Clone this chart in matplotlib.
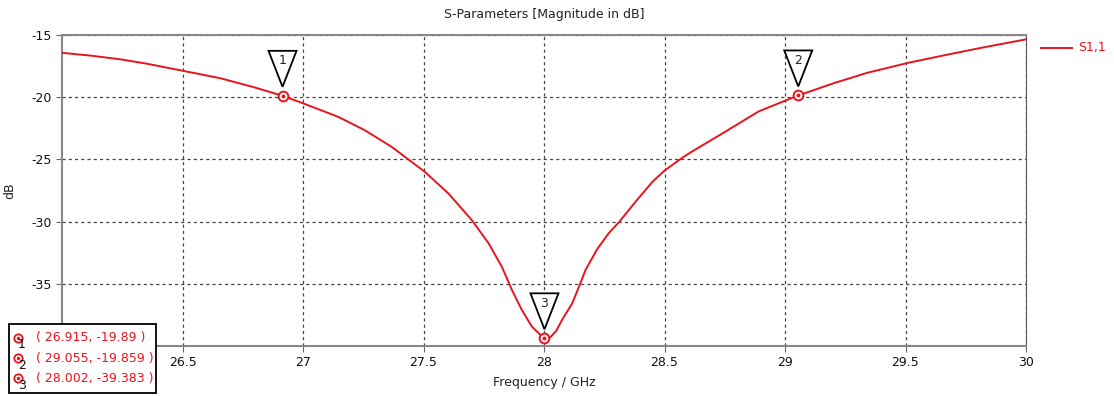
import matplotlib.pyplot as plt
from matplotlib.patches import Polygon, Rectangle
from matplotlib.lines import Line2D

# S1,1 magnitude in dB vs frequency in GHz
freq = [26.00, 26.12, 26.24, 26.35, 26.45, 26.50, 26.658, 26.797, 26.915, 27.00,
        27.145, 27.255, 27.367, 27.505, 27.603, 27.70, 27.77, 27.825, 27.867, 27.908,
        27.95, 27.985, 28.002, 28.026, 28.05, 28.075, 28.117, 28.151, 28.172, 28.221,
        28.27, 28.311, 28.38, 28.45, 28.50, 28.575, 28.62, 28.75, 28.89, 28.99,
        29.055, 29.20, 29.339, 29.515, 29.686, 29.825, 30.00]
s11 = [-16.43, -16.66, -16.95, -17.30, -17.68, -17.87, -18.48, -19.20, -19.89, -20.49,
       -21.57, -22.64, -23.98, -25.99, -27.73, -29.87, -31.74, -33.63, -35.5, -37.1,
       -38.45, -39.1, -39.383, -39.3, -38.8, -37.9, -36.57, -34.96, -33.9, -32.2,
       -30.9, -30.05, -28.4, -26.8, -25.9, -24.85, -24.3, -22.8, -21.15, -20.36,
       -19.859, -18.89, -18.05, -17.22, -16.53, -15.99, -15.35]

# marker readouts
marker_ids = ['1', '2', '3']
marker_freq = [26.915, 29.055, 28.002]
marker_val = [-19.89, -19.859, -39.383]

xticks = [26.5, 27, 27.5, 28, 28.5, 29, 29.5, 30]
yticks = [-35, -30, -25, -20, -15]

RED = '#e8141c'
plt.rcParams['font.family'] = 'DejaVu Sans'
plt.rcParams['axes.unicode_minus'] = False

W, H = 1114, 396
fig = plt.figure(figsize=(W / 100, H / 100), dpi=100)
ax = fig.add_axes([62 / W, 1 - 346 / H, (1026 - 62) / W, (346 - 35) / H])

ax.plot(freq, s11, color=RED, lw=1.4, zorder=3)
ax.set_xlim(26, 30)
ax.set_ylim(-40, -15)
ax.set_xticks(xticks)
ax.set_xticklabels(['26.5', '27', '27.5', '28', '28.5', '29', '29.5', '30'])
ax.set_yticks(yticks)
ax.tick_params(labelsize=9, length=4, color='#666666', labelcolor='#111111')
ax.grid(True, color='#444444', lw=0.9, linestyle=(0, (2.5, 2.5)))
for s in ['top', 'left', 'bottom']:
    ax.spines[s].set_color('#888888')
    ax.spines[s].set_linewidth(1.5)
ax.spines['right'].set_color('#555555')

ax.set_title('S-Parameters [Magnitude in dB]', fontsize=9, color='#222222', pad=12)
ax.set_xlabel('Frequency / GHz', fontsize=9, color='#222222', labelpad=5)
ax.set_ylabel('dB', fontsize=9, color='#222222')
ax.yaxis.set_label_coords(-(62 - 16) / 964, 0.5)

# triangle flags above each marker (pixel offsets)
fig.canvas.draw()
for mid, mx, my in zip(marker_ids, marker_freq, marker_val):
    px, py = ax.transData.transform((mx, my))
    tri = Polygon([(px - 14, py + 45), (px + 14, py + 45), (px, py + 9)],
                  closed=True, transform=None, facecolor='white',
                  edgecolor='black', lw=1.3, zorder=5)
    fig.artists.append(tri)
    fig.text(px / W, (py + 35) / H, mid, ha='center', va='center',
             fontsize=9, color='#222222', zorder=6)
    ax.plot(mx, my, 'o', ms=7, mfc='white', mec=RED, mew=1.4, zorder=6)
    ax.plot(mx, my, 'o', ms=1.8, color=RED, zorder=7)

# marker readout box
box = Rectangle((9 / W, 3 / H), 147 / W, 69 / H, transform=fig.transFigure,
                facecolor='white', edgecolor='black', lw=1.3, zorder=10)
fig.patches.append(box)
rows_y = [337.7, 358.3, 378.3]
for mid, mx, my, ry in zip(marker_ids, marker_freq, marker_val, rows_y):
    yf = 1 - ry / H
    fig.add_artist(Line2D([18 / W], [yf], marker='o', ms=6, mfc='white',
                          mec=RED, mew=1.3, zorder=11))
    fig.add_artist(Line2D([18 / W], [yf], marker='o', ms=1.5, color=RED, zorder=12))
    fig.text(22 / W, 1 - (ry + 7) / H, mid, ha='center', va='center',
             fontsize=9, color='#111111', zorder=12)
    fig.text(36 / W, yf, '( {}, {} )'.format(mx, my), ha='left', va='center',
             fontsize=9, color=RED, zorder=12)

# series legend on the right
fig.add_artist(Line2D([1041 / W, 1072 / W], [1 - 48 / H, 1 - 48 / H],
                      color=RED, lw=1.4))
fig.text(1078 / W, 1 - 48 / H, 'S1,1', ha='left', va='center',
         fontsize=9, color=RED)

fig.savefig('out.png', dpi=100)
